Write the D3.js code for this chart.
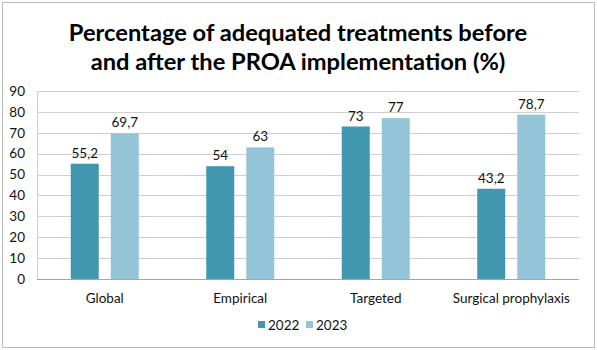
<!DOCTYPE html>
<html>
<head>
<meta charset="utf-8">
<script src="https://cdn.jsdelivr.net/npm/d3@7"></script>
<style>
  html, body { margin: 0; padding: 0; background: #fff; }
  svg { display: block; font-family: Lato, "Open Sans", sans-serif; }
</style>
</head>
<body>
<div id="chart"></div>
<script>
const categories = ['Global', 'Empirical', 'Targeted', 'Surgical prophylaxis'];
const years = ['2022', '2023'];
const values2022 = [55.2, 54, 73, 43.2];
const values2023 = [69.7, 63, 77, 78.7];
const yTicks = [0, 10, 20, 30, 40, 50, 60, 70, 80, 90];
const titleLines = ['Percentage of adequated treatments before', 'and after the PROA implementation (%)'];
const colors = ['#4197b0', '#93c4d7'];

const width = 597;
const height = 350;
const plot = { left: 37, right: 579, top: 91, bottom: 279 };

const svg = d3.select('#chart').append('svg')
  .attr('width', width)
  .attr('height', height);

svg.append('rect')
  .attr('x', 2.5).attr('y', 2.5)
  .attr('width', 592).attr('height', 345)
  .attr('fill', '#fff')
  .attr('stroke', '#bcbcbc');

svg.selectAll('.title')
  .data(titleLines)
  .join('text')
  .attr('class', 'title')
  .attr('x', 298)
  .attr('y', (d, i) => 41 + i * 29)
  .attr('text-anchor', 'middle')
  .attr('font-size', 23.7)
  .attr('font-weight', 'bold')
  .attr('fill', '#000')
  .text((d) => d);

const x = d3.scaleBand().domain(categories).range([plot.left, plot.right]).paddingInner(0).paddingOuter(0);
const xInner = d3.scaleBand().domain(years).range([0, 68]).paddingInner(0.3);
const y = d3.scaleLinear().domain([0, 90]).range([plot.bottom, plot.top]);

// gridlines
svg.append('g')
  .selectAll('line')
  .data(yTicks)
  .join('line')
  .attr('x1', plot.left)
  .attr('x2', plot.right)
  .attr('y1', (d) => Math.round(y(d)) + 0.5)
  .attr('y2', (d) => Math.round(y(d)) + 0.5)
  .attr('stroke', (d) => (d === 0 ? '#a6a6a6' : '#cfcfcf'))
  .attr('stroke-width', 1);

// left axis edge
svg.append('line')
  .attr('x1', plot.left + 0.5).attr('x2', plot.left + 0.5)
  .attr('y1', plot.top).attr('y2', plot.bottom)
  .attr('stroke', '#cfcfcf');

const yAxis = d3.axisLeft(y).tickValues(yTicks).tickSize(0).tickPadding(12);
const yG = svg.append('g').attr('transform', `translate(${plot.left},0)`).call(yAxis);
yG.select('.domain').remove();
yG.selectAll('text')
  .attr('font-family', 'Lato, "Open Sans", sans-serif')
  .attr('font-size', 13.5)
  .attr('fill', '#111');

const xAxis = d3.axisBottom(x).tickSize(0).tickPadding(14);
const xG = svg.append('g').attr('transform', `translate(0,${plot.bottom})`).call(xAxis);
xG.select('.domain').remove();
xG.selectAll('text')
  .attr('font-family', 'Lato, "Open Sans", sans-serif')
  .attr('font-size', 13.5)
  .attr('fill', '#111');

const rows = categories.map((c, i) => ({ category: c, values: [values2022[i], values2023[i]] }));

const groups = svg.append('g').selectAll('g')
  .data(rows)
  .join('g')
  .attr('transform', (d) => `translate(${x(d.category) + (x.bandwidth() - 68) / 2},0)`);

const bars = groups.selectAll('g')
  .data((d) => d.values.map((v, i) => ({ year: years[i], value: v, idx: i })))
  .join('g');

bars.append('rect')
  .attr('x', (d) => xInner(d.year))
  .attr('width', xInner.bandwidth())
  .attr('y', (d) => y(d.value))
  .attr('height', (d) => y(0) - y(d.value))
  .attr('fill', (d) => colors[d.idx]);

bars.append('text')
  .attr('x', (d) => xInner(d.year) + xInner.bandwidth() / 2)
  .attr('y', (d) => y(d.value) - 6)
  .attr('text-anchor', 'middle')
  .attr('font-size', 13.5)
  .attr('fill', '#111')
  .text((d) => String(d.value).replace('.', ','));

// legend
const legend = svg.append('g').attr('transform', 'translate(258,325)');
const legendItems = legend.selectAll('g')
  .data(years)
  .join('g')
  .attr('transform', (d, i) => `translate(${i * 48},0)`);
legendItems.append('rect')
  .attr('x', 0).attr('y', -4)
  .attr('width', 7).attr('height', 7)
  .attr('fill', (d, i) => colors[i]);
legendItems.append('text')
  .attr('x', 10).attr('y', 5)
  .attr('font-size', 13.5)
  .attr('fill', '#111')
  .text((d) => d);
</script>
</body>
</html>
